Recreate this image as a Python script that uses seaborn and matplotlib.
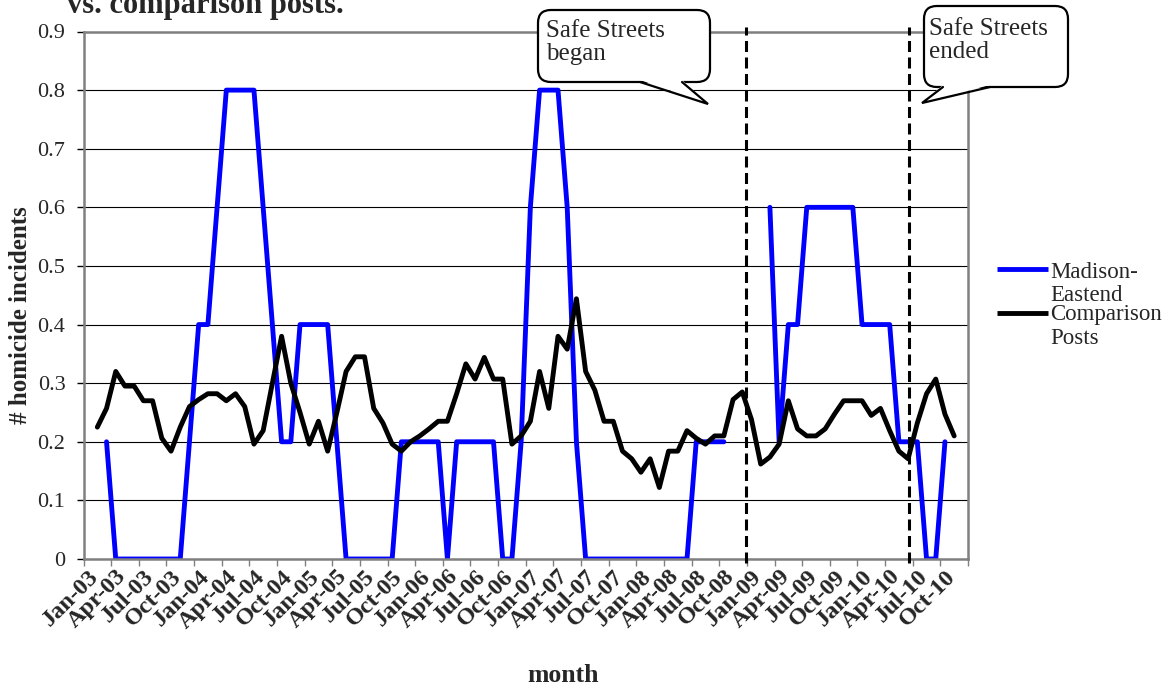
import numpy as np
import pandas as pd
import matplotlib
matplotlib.use("Agg")
import matplotlib.pyplot as plt
from matplotlib.patches import FancyBboxPatch, Polygon
from matplotlib.lines import Line2D
import seaborn as sns

# data (monthly, Jan-03 .. Dec-10)

months = pd.date_range("2003-01-01", "2010-12-01", freq="MS").strftime("%b-%y").tolist()

series_names = ["Madison-Eastend", "Comparison Posts"]

madison = [
    None, None, 0.2, 0, 0, 0, 0, 0, 0, 0, 0, 0.2,          # 2003
    0.4, 0.4, 0.6, 0.8, 0.8, 0.8, 0.8, 0.6, 0.4, 0.2, 0.2, 0.4,  # 2004
    0.4, 0.4, 0.4, 0.2, 0, 0, 0, 0, 0, 0, 0.2, 0.2,         # 2005
    0.2, 0.2, 0.2, 0, 0.2, 0.2, 0.2, 0.2, 0.2, 0, 0, 0.2,   # 2006
    0.6, 0.8, 0.8, 0.8, 0.6, 0.2, 0, 0, 0, 0, 0, 0,         # 2007
    0, 0, 0, 0, 0, 0, 0.2, 0.2, 0.2, 0.2, None, None,       # 2008
    None, None, 0.6, 0.2, 0.4, 0.4, 0.6, 0.6, 0.6, 0.6, 0.6, 0.6,  # 2009
    0.4, 0.4, 0.4, 0.4, 0.2, 0.2, 0.2, 0, 0, 0.2, None, None,  # 2010
]

comparison = [
    None, 0.225, 0.257, 0.32, 0.295, 0.295, 0.27, 0.27, 0.206, 0.184, 0.225, 0.26,
    0.272, 0.282, 0.282, 0.27, 0.282, 0.26, 0.196, 0.219, 0.30, 0.38, 0.30, 0.25,
    0.196, 0.235, 0.184, 0.25, 0.32, 0.345, 0.345, 0.257, 0.232, 0.196, 0.184, 0.2,
    0.21, 0.222, 0.235, 0.235, 0.282, 0.333, 0.307, 0.344, 0.307, 0.307, 0.196, 0.21,
    0.235, 0.32, 0.257, 0.38, 0.358, 0.444, 0.32, 0.288, 0.235, 0.235, 0.184, 0.171,
    0.148, 0.171, 0.122, 0.184, 0.184, 0.219, 0.206, 0.196, 0.21, 0.21, 0.272, 0.285,
    0.238, 0.162, 0.174, 0.196, 0.27, 0.222, 0.21, 0.21, 0.222, 0.247, 0.27, 0.27,
    0.27, 0.245, 0.257, 0.219, 0.184, 0.171, 0.232, 0.282, 0.307, 0.247, 0.21, None,
]

# where the program started / ended (month position)
event_positions = [71.4, 89.1]
event_texts = ["Safe Streets\nbegan", "Safe Streets\nended"]

y_ticks = [0, 0.1, 0.2, 0.3, 0.4, 0.5, 0.6, 0.7, 0.8, 0.9]
y_tick_labels = ["0", "0.1", "0.2", "0.3", "0.4", "0.5", "0.6", "0.7", "0.8", "0.9"]

colors = {"Madison-Eastend": "#0000FF", "Comparison Posts": "#000000"}

# long table, gaps split into separate segments

frames = []
for name, vals in zip(series_names, [madison, comparison]):
    v = pd.Series(vals, dtype=float)
    seg = v.isna().cumsum()
    frames.append(pd.DataFrame({"idx": np.arange(len(months)), "value": v,
                                "series": name, "segment": seg}))
df = pd.concat(frames).dropna(subset=["value"])

# plot

sns.set_style("white")
plt.rcParams["font.family"] = ["Liberation Serif", "DejaVu Serif"]

W, H = 1172, 689
fig = plt.figure(figsize=(W / 100, H / 100), dpi=100)
ax = fig.add_axes([83.5 / W, 1 - 559 / H, (968 - 83.5) / W, (559 - 31.5) / H])


def fx(px):
    return px / W


def fy(py):
    return 1 - py / H


sns.lineplot(data=df, x="idx", y="value", hue="series", units="segment",
             estimator=None, palette=colors, linewidth=3.5, legend=False, ax=ax)

ax.set_xlim(-0.5, 95.5)
ax.set_ylim(0, 0.9)
ax.set_yticks(y_ticks)
ax.set_yticklabels(y_tick_labels, fontsize=16)
ax.set_xticks(range(0, 96, 3))
ax.set_xticklabels(months[::3], rotation=45, ha="right", rotation_mode="anchor",
                   fontsize=17.5, fontweight="bold")
ax.set_xticks(np.arange(-0.5, 96, 3), minor=True)

ax.tick_params(axis="x", which="major", bottom=True, length=0, pad=5)
ax.tick_params(axis="x", which="minor", bottom=True, length=5, width=1, color="#808080")
ax.tick_params(axis="y", left=True, length=5, width=1, color="black", pad=8)

ax.yaxis.grid(True, color="black", linewidth=0.8)
ax.xaxis.grid(False)
ax.set_axisbelow(True)
for s in ax.spines.values():
    s.set_color("#808080")
    s.set_linewidth(1.8)

ax.set_xlabel("month", fontsize=18.5, fontweight="bold")
ax.xaxis.set_label_coords((563 - 83.5) / 884.5, -0.2)
ax.set_ylabel("# homicide incidents", fontsize=18, fontweight="bold")
ax.yaxis.set_label_coords((21 - 83.5) / 884.5, (559 - 315) / 527.5)
ax.yaxis.label.set_va("center")

for xpos in event_positions:
    ax.axvline(xpos, ymin=-0.008, ymax=1.008, color="black", linewidth=2.2,
               linestyle=(0, (3.6, 1.8)), clip_on=False, zorder=4)

# title (first line is cut off in the original)
fig.text(fx(67), fy(13), "vs. comparison posts.", fontsize=22, fontweight="bold",
         ha="left", va="baseline")


# callouts
def callout(x0, y0, x1, y1, base_l, base_r, tip, text, tx, ty):
    box = FancyBboxPatch((fx(x0), fy(y1)), fx(x1) - fx(x0), fy(y0) - fy(y1),
                         boxstyle="round,pad=0,rounding_size=0.011",
                         mutation_aspect=W / H, transform=fig.transFigure,
                         fc="white", ec="black", lw=1.6, zorder=5)
    fig.patches.append(box)
    pts = [(fx(base_l[0]), fy(base_l[1] - 2)), (fx(tip[0]), fy(tip[1])),
           (fx(base_r[0]), fy(base_r[1] - 2))]
    fig.patches.append(Polygon(pts, closed=True, transform=fig.transFigure,
                               fc="white", ec="none", zorder=6))
    fig.lines.append(Line2D([fx(base_l[0]), fx(tip[0]), fx(base_r[0])],
                            [fy(base_l[1]), fy(tip[1]), fy(base_r[1])],
                            transform=fig.transFigure, color="black", lw=1.6,
                            solid_joinstyle="miter", zorder=7))
    fig.text(fx(tx), fy(ty), text, fontsize=18, ha="left", va="top",
             linespacing=1.05, zorder=8)


callout(538, 10, 710, 82, (640, 82), (682, 82), (708, 104), event_texts[0], 546, 20)
callout(924, 6, 1068, 87, (943, 87), (990, 87), (922, 103), event_texts[1], 929, 18)

# legend, drawn at the right like the original
leg_rows = [(269, ["Madison-", "Eastend"], 278, "#0000FF"),
            (313, ["Comparison", "Posts"], 320, "#000000")]
for ly, words, base, col in leg_rows:
    fig.lines.append(Line2D([fx(997), fx(1048)], [fy(ly), fy(ly)], transform=fig.transFigure,
                            color=col, lw=3.5, solid_capstyle="butt"))
    for k, w in enumerate(words):
        fig.text(fx(1050), fy(base + 23.5 * k), w, fontsize=16.5, ha="left", va="baseline")

fig.savefig("out.png", dpi=100)
